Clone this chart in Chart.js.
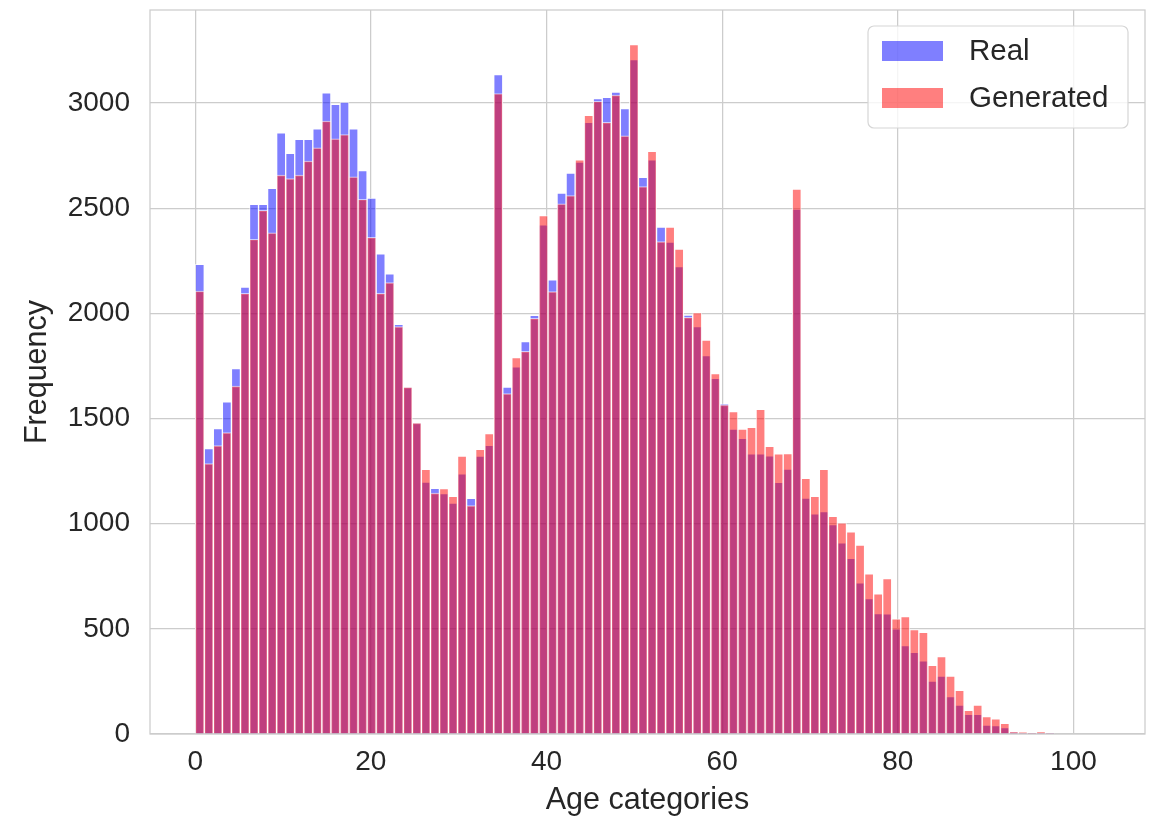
<!DOCTYPE html>
<html>
<head>
<meta charset="utf-8">
<script src="https://cdn.jsdelivr.net/npm/chart.js@4.4.1/dist/chart.umd.min.js"></script>
<style>
  html, body { margin: 0; padding: 0; background: #ffffff; }
  #wrap { position: relative; width: 1151px; height: 822px; }
  canvas { display: block; }
</style>
</head>
<body>
<div id="wrap"><canvas id="c" width="1151" height="822"></canvas></div>
<script>
// ---- data (histogram of ages, 100 bins spanning 0..103) ----
const binStart = 0;
const binWidth = 1.03;
const realCounts = [
  2233, 1357, 1452, 1579, 1737, 2125, 2518, 2518, 2594, 2858,
  2760, 2827, 2827, 2877, 3048, 2993, 3004, 2877, 2678, 2548,
  2283, 2188, 1948, 1649, 1479, 1198, 1168, 1143, 1098, 1237,
  1120, 1321, 1372, 3135, 1649, 1745, 1865, 1990, 2421, 2159,
  2571, 2667, 2719, 2908, 3021, 3027, 3052, 2973, 3206, 2646,
  2730, 2410, 2338, 2222, 1992, 1937, 1799, 1691, 1570, 1449,
  1406, 1332, 1332, 1322, 1196, 1259, 2495, 1122, 1047, 1057,
  995, 909, 835, 719, 644, 572, 571, 500, 420, 388,
  348, 252, 275, 178, 137, 94, 94, 42, 40, 30,
  9, 3, 1, 3, 1, 0, 0, 0, 0, 0
];
const generatedCounts = [
  2106, 1285, 1371, 1433, 1654, 2095, 2352, 2489, 2383, 2657,
  2640, 2657, 2724, 2787, 2914, 2830, 2850, 2649, 2542, 2361,
  2095, 2146, 1937, 1649, 1479, 1258, 1145, 1167, 1130, 1321,
  1086, 1353, 1428, 3045, 1618, 1789, 1819, 1976, 2465, 2103,
  2521, 2560, 2730, 2941, 3008, 2908, 3037, 2844, 3278, 2603,
  2770, 2341, 2410, 2305, 1981, 2003, 1873, 1713, 1565, 1533,
  1449, 1458, 1544, 1367, 1332, 1333, 2590, 1216, 1130, 1258,
  1035, 1004, 961, 898, 761, 666, 739, 548, 558, 496,
  483, 326, 368, 275, 208, 113, 137, 83, 72, 51,
  11, 8, 1, 10, 3, 0, 0, 0, 0, 0
];
const seriesNames = ['Real', 'Generated'];
const xTickValues = [0, 20, 40, 60, 80, 100];
const yTickValues = [0, 500, 1000, 1500, 2000, 2500, 3000];
const xLabel = 'Age categories';
const yLabel = 'Frequency';

// ---- styling ----
const FONT = "'Liberation Sans', Arial, Helvetica, sans-serif";
const TEXT = '#262626';
const GRID = '#cccccc';
const realFill = 'rgba(0,0,255,0.5)';
const genFill = 'rgba(255,0,0,0.5)';

const binCenters = realCounts.map((_, i) => binStart + (i + 0.5) * binWidth);
const toPoints = arr => arr.map((v, i) => ({ x: binCenters[i], y: v }));

const xMaxData = binStart + realCounts.length * binWidth;
const xPad = 0.05 * (xMaxData - binStart);
const yMaxData = Math.max(...realCounts, ...generatedCounts);

const framePlugin = {
  id: 'frame',
  afterDraw(chart) {
    const { ctx, chartArea: a } = chart;
    ctx.save();
    ctx.strokeStyle = GRID;
    ctx.lineWidth = 1.25;
    ctx.strokeRect(a.left, a.top, a.right - a.left, a.bottom - a.top);
    ctx.restore();
  }
};

const legendPlugin = {
  id: 'mplLegend',
  afterDraw(chart) {
    const { ctx, chartArea: a } = chart;
    const ds = chart.data.datasets;
    const w = 260, h = 102;
    const x = a.right - 17 - w, y = a.top + 16;
    ctx.save();
    const r = 6;
    ctx.beginPath();
    ctx.moveTo(x + r, y);
    ctx.arcTo(x + w, y, x + w, y + h, r);
    ctx.arcTo(x + w, y + h, x, y + h, r);
    ctx.arcTo(x, y + h, x, y, r);
    ctx.arcTo(x, y, x + w, y, r);
    ctx.closePath();
    ctx.fillStyle = 'rgba(255,255,255,0.8)';
    ctx.fill();
    ctx.strokeStyle = '#d6d6d6';
    ctx.lineWidth = 1.2;
    ctx.stroke();
    ctx.font = '29.5px ' + FONT;
    ctx.textBaseline = 'middle';
    [0, 1].forEach((k, i) => {
      const d = ds[k];
      const cy = y + 25 + i * 47;
      ctx.fillStyle = d.backgroundColor;
      ctx.fillRect(x + 14, cy - 10, 61, 20);
      ctx.fillStyle = TEXT;
      ctx.fillText(d.label, x + 101, cy + 1);
    });
    ctx.restore();
  }
};

new Chart(document.getElementById('c'), {
  type: 'bar',
  data: {
    datasets: [
      {
        label: seriesNames[0],
        data: toPoints(realCounts),
        backgroundColor: realFill,
        borderColor: 'rgba(255,255,255,0.6)',
        borderWidth: 1,
        borderSkipped: 'start',
        order: 1
      },
      {
        label: seriesNames[1],
        data: toPoints(generatedCounts),
        backgroundColor: genFill,
        borderColor: 'rgba(255,255,255,0.6)',
        borderWidth: 1,
        borderSkipped: 'start',
        order: 0
      }
    ]
  },
  options: {
    responsive: false,
    animation: false,
    devicePixelRatio: 1,
    layout: { padding: { left: 0, right: 6, top: 10, bottom: 0 } },
    datasets: { bar: { grouped: false, barPercentage: 1, categoryPercentage: 1 } },
    plugins: {
      legend: { display: false },
      tooltip: { enabled: false },
      title: { display: false }
    },
    scales: {
      x: {
        type: 'linear',
        offset: false,
        min: binStart - xPad,
        max: xMaxData + xPad,
        afterBuildTicks: s => { s.ticks = xTickValues.map(v => ({ value: v })); },
        afterFit: s => { s.height = 88; s.paddingLeft = 0; s.paddingRight = 0; },
        grid: { color: GRID, lineWidth: 1.25, drawTicks: false, offset: false },
        border: { display: false },
        ticks: {
          color: TEXT,
          font: { family: FONT, size: 28 },
          padding: 11,
          maxRotation: 0,
          autoSkip: false,
          callback: v => String(v)
        },
        title: {
          display: true,
          text: xLabel,
          color: TEXT,
          font: { family: FONT, size: 30.5 },
          padding: { top: 0, bottom: 3 }
        }
      },
      y: {
        type: 'linear',
        min: 0,
        max: yMaxData * 1.05,
        afterBuildTicks: s => { s.ticks = yTickValues.map(v => ({ value: v })); },
        afterFit: s => { s.width = 150; s.paddingTop = 0; s.paddingBottom = 0; },
        grid: { color: GRID, lineWidth: 1.25, drawTicks: false },
        border: { display: false },
        ticks: {
          color: TEXT,
          font: { family: FONT, size: 28 },
          padding: 20,
          autoSkip: false,
          callback: v => String(v)
        },
        title: {
          display: true,
          text: yLabel,
          color: TEXT,
          font: { family: FONT, size: 30.5 },
          padding: { top: 19, bottom: 0 }
        }
      }
    }
  },
  plugins: [framePlugin, legendPlugin]
});
</script>
</body>
</html>
